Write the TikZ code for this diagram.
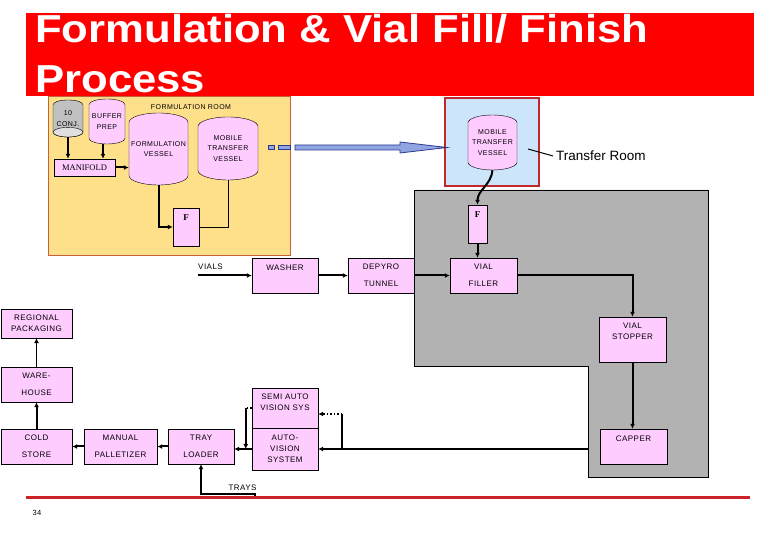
\documentclass[tikz,border=0pt]{standalone}
\usepackage{fontspec}
\setmainfont{Liberation Sans}
\newfontfamily\titlefont[FakeStretch=1.12]{Liberation Sans}
\newfontfamily\lblfamily[LetterSpace=6]{Liberation Sans}
\newfontfamily\boxserif{Liberation Serif}
\usepackage{tikz}
\usetikzlibrary{calc,arrows.meta}
\definecolor{titlered}{HTML}{FF0000}
\definecolor{roomyellow}{HTML}{FFE08A}
\definecolor{roomedge}{HTML}{C8603C}
\definecolor{transferblue}{HTML}{CCE5FA}
\definecolor{transferedge}{HTML}{C0282D}
\definecolor{lilac}{HTML}{FFCCFF}
\definecolor{hallgray}{HTML}{B2B2B2}
\definecolor{conjgray}{HTML}{C0C0C0}
\definecolor{arrowblue}{HTML}{8FA6E2}
\definecolor{arrowedge}{HTML}{2F3A8F}
\definecolor{rulered}{HTML}{CC2229}
\newcommand{\lblfont}{\lblfamily\fontsize{8}{11}\selectfont}
\newcommand{\widefont}{\lblfamily\fontsize{8}{16.5}\selectfont}
\newcommand{\vesselfont}{\lblfamily\fontsize{7}{10.5}\selectfont}
\newcommand{\vessel}[7]{%
  \draw[fill=#6] (#2-#4/2,#3-#5/2+0.16*#4) arc[start angle=180,end angle=360,x radius=#4/2,y radius=0.16*#4]
    -- (#2+#4/2,#3+#5/2-0.16*#4) arc[start angle=0,end angle=180,x radius=#4/2,y radius=0.16*#4] -- cycle;
  \node[inner sep=0pt,align=center,font=\vesselfont,minimum width=#4pt,minimum height=#5pt] (#1) at (#2,#3) {#7};}

\begin{document}
\begin{tikzpicture}[x=1pt,y=1pt,
  box/.style 2 args={draw,fill=lilac,minimum width=#1pt,minimum height=#2pt,inner sep=0pt,align=center,font=\lblfont},
  lbltext/.style={inner sep=0pt,align=center,font=\lblfont},
  ftext/.style={inner sep=0pt,font=\boxserif\bfseries\fontsize{9}{10}\selectfont,label distance=-12.5pt},
  titletext/.style={anchor=base west,inner sep=0pt,text=white,font=\titlefont\bfseries\fontsize{39}{50}\selectfont},
  flow/.style={line width=2pt,-{Latex[length=5pt,width=5pt]}},
  thinflow/.style={line width=0.8pt,-{Latex[length=5pt,width=5pt]}},
  dotflow/.style={dotted,line width=1.5pt,-{Latex[length=5pt,width=5pt]}}]
\useasboundingbox (0,0) rectangle (780,540);
\fill[titlered] (26,527) rectangle (754,444);
\node[titletext] (title) at (35,497) {Formulation \& Vial Fill/ Finish};
\node[titletext] (title2) at (35,447) {Process};

\node[draw=roomedge,fill=roomyellow,line width=1pt,minimum width=242pt,minimum height=159pt] (room) at (169,363.5) {};
\node[draw=transferedge,fill=transferblue,line width=1.6pt,minimum width=94pt,minimum height=88pt] (troom) at (492,398) {};
\draw[fill=hallgray] (414,350) -- (708,350) -- (708,63) -- (588,63) -- (588,174) -- (414,174) -- cycle;

\node[font=\vesselfont] (roomlbl) at (191,433) {FORMULATION ROOM};
\vessel{conj}{68}{421.5}{30}{37}{conjgray}{10\\CONJ.}
\draw[fill=gray!25] (68,403+4.8) ellipse[x radius=15,y radius=4.8];
\vessel{buffer}{107}{418.5}{36}{45}{lilac}{BUFFER\\PREP}
\vessel{fv}{158.5}{391}{59}{72}{lilac}{FORMULATION\\VESSEL}
\vessel{mt}{228}{391.5}{60}{63}{lilac}{MOBILE\\TRANSFER\\VESSEL}
\vessel{mtv}{492.5}{397.5}{49}{55}{lilac}{MOBILE\\TRANSFER\\VESSEL}

\node[box={61}{17},font=\boxserif\fontsize{8.5}{9}\selectfont] (manifold) at (84.5,372.5) {MANIFOLD};
\node[box={26}{38},label={[ftext]90:F}] (f1) at (186,313) {};
\node[box={19}{38},label={[ftext]90:F}] (f2) at (477.5,316) {};
\node[box={66}{35},label={[lbltext,label distance=-13pt]90:WASHER}] (washer) at (285,264.5) {};
\node[box={66}{35},font=\widefont] (depyro) at (381,264.5) {DEPYRO\\TUNNEL};
\node[box={67}{35},font=\widefont] (filler) at (483.5,264.5) {VIAL\\FILLER};
\node[box={67}{45},label={[lbltext,label distance=-23pt]90:VIAL\\STOPPER}] (stopper) at (632.5,200.5) {};
\node[box={67}{35},label={[lbltext,label distance=-13pt]90:CAPPER}] (capper) at (633.5,93.5) {};
\node[box={71}{29}] (regional) at (36.5,216.5) {REGIONAL\\PACKAGING};
\node[box={71}{35},font=\widefont] (warehouse) at (36.5,155.5) {WARE-\\HOUSE};
\node[box={71}{35},font=\widefont] (cold) at (36.5,93.5) {COLD\\STORE};
\node[box={73}{35},font=\widefont] (manual) at (120.5,93.5) {MANUAL\\PALLETIZER};
\node[box={66}{35},font=\widefont] (tray) at (201,93.5) {TRAY\\LOADER};
\node[box={66}{40},label={[lbltext,label distance=-23pt]90:SEMI AUTO\\VISION SYS}] (semi) at (285,132) {};
\node[box={66}{42}] (auto) at (285,91) {AUTO-\\VISION\\SYSTEM};

\draw[flow] (conj.south) -- (conj.south |- manifold.north);
\draw[flow] ([xshift=-4pt]buffer.south) -- ([xshift=-4pt]buffer.south |- manifold.north);
\draw[flow] (manifold.east) -- (manifold.east -| fv.west);
\draw[flow] (fv.south) |- (f1.west);
\draw[line width=0.8pt] (mt.south) |- (f1.east);

\draw[fill=arrowblue,draw=arrowedge,line width=0.8pt] (268,390.5) rectangle (274,394.5) (278,390.5) rectangle (290,394.5);
\draw[fill=arrowblue,draw=arrowedge,line width=0.8pt] (295,395) -- (400,395) -- (400,398) -- (447,392.5) -- (400,387) -- (400,390) -- (295,390) -- cycle;

\node[anchor=west,inner sep=0pt,font=\fontsize{13.5}{16}\selectfont] (trlbl) at (556,384) {Transfer Room};
\coordinate (trtick) at (528,391);
\draw[line width=1pt] (trtick) -- ([xshift=-3pt]trlbl.west);

\draw[flow] (mtv.south) to[out=-95,in=90] (f2.north);
\draw[flow] (f2.south) -- (f2.south |- filler.north);
\coordinate (vials) at (198,264.5);
\node[lbltext,anchor=base west] (vialslbl) at (198,270.5) {VIALS};
\draw[flow] (vials) -- (washer.west);
\draw[flow] (washer) -- (depyro);
\draw[flow] (depyro) -- (filler);
\draw[flow] (filler.east) -| (stopper.north);
\draw[flow] (stopper.south) -- (stopper.south |- capper.north);

\coordinate (hallw) at (588,91);
\draw[flow] (hallw) -- (hallw -| auto.east);
\coordinate (branch) at (342,91);
\draw[line width=2pt] (branch) -- ++(0,35) coordinate (brancht);
\draw[dotflow] (brancht) -- (brancht -| semi.east);
\draw[dotted,line width=1.5pt] (semi.west) -- ++(-6,0) coordinate (semil);
\draw[flow] (semil) -- (semil |- auto.west);
\draw[flow] (auto.west) -- (auto.west -| tray.east);
\draw[flow] (tray) -- (manual);
\draw[flow] (manual) -- (cold);
\draw[flow] (cold) -- (warehouse);
\draw[thinflow] (warehouse) -- (regional);

\coordinate (trays) at (255,43);
\node[lbltext,anchor=base] (trayslbl) at (242.5,49) {TRAYS};
\draw[flow] (trays) -- ++(0,3) -| (tray.south);
\draw[rulered,line width=3pt] (26,42) -- (750,42);
\node[font=\lblfamily\fontsize{7.5}{9}\selectfont] (page) at (37,27) {34};
\end{tikzpicture}
\end{document}
